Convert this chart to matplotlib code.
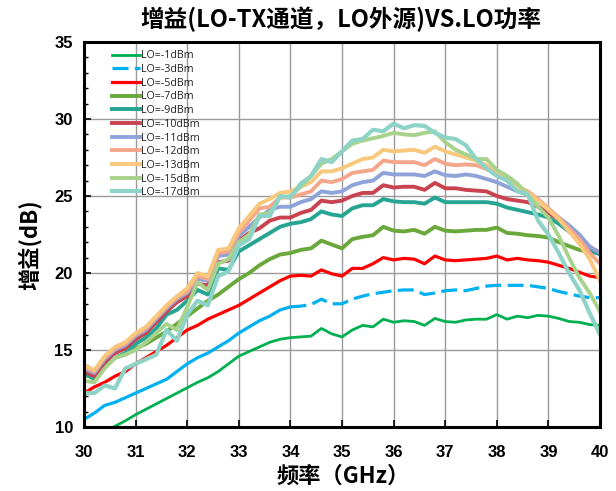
import numpy as np
import matplotlib
matplotlib.use("Agg")
import matplotlib.pyplot as plt
from matplotlib.ticker import MultipleLocator

# ---------------- data ----------------
freq = [30.0, 30.2, 30.4, 30.6, 30.8, 31.0, 31.2, 31.4, 31.6, 31.8,
        32.0, 32.2, 32.4, 32.6, 32.8, 33.0, 33.2, 33.4, 33.6, 33.8,
        34.0, 34.2, 34.4, 34.6, 34.8, 35.0, 35.2, 35.4, 35.6, 35.8,
        36.0, 36.2, 36.4, 36.6, 36.8, 37.0, 37.2, 37.4, 37.6, 37.8,
        38.0, 38.2, 38.4, 38.6, 38.8, 39.0, 39.2, 39.4, 39.6, 39.8, 40.0]

lo_m1 = [9.0, 9.35, 9.7, 10.05, 10.4, 10.8, 11.15, 11.5, 11.85, 12.2,
         12.55, 12.9, 13.2, 13.6, 14.1, 14.6, 14.9, 15.2, 15.5, 15.7,
         15.8, 15.85, 15.9, 16.4, 16.05, 15.85, 16.3, 16.6, 16.5, 17.0,
         16.8, 16.9, 16.85, 16.6, 17.05, 16.85, 16.8, 16.95, 17.0, 17.0,
         17.3, 17.0, 17.2, 17.1, 17.25, 17.2, 17.05, 16.85, 16.8, 16.65, 16.6]

lo_m3 = [10.5, 10.9, 11.4, 11.6, 11.9, 12.2, 12.5, 12.8, 13.1, 13.6,
         14.1, 14.5, 14.8, 15.2, 15.6, 16.1, 16.5, 16.9, 17.2, 17.6,
         17.8, 17.85, 17.95, 18.3, 18.0, 18.0, 18.3, 18.5, 18.65, 18.75,
         18.85, 18.9, 18.9, 18.6, 18.7, 18.85, 18.9, 18.85, 19.0, 19.15,
         19.2, 19.2, 19.2, 19.2, 19.1, 19.0, 18.8, 18.65, 18.5, 18.4, 18.4]

lo_m5 = [12.2, 12.6, 12.9, 13.3, 13.6, 14.1, 14.5, 14.9, 15.3, 15.8,
         16.3, 16.6, 17.0, 17.3, 17.6, 17.9, 18.3, 18.7, 19.1, 19.5,
         19.8, 19.85, 19.8, 20.2, 19.95, 19.8, 20.3, 20.3, 20.6, 21.0,
         20.85, 20.95, 20.9, 20.6, 21.1, 20.85, 20.8, 20.85, 20.9, 20.95,
         21.1, 20.85, 20.95, 20.85, 20.8, 20.7, 20.5, 20.3, 20.05, 19.8, 19.7]

lo_m7 = [13.3, 13.4, 13.9, 14.5, 14.7, 15.1, 15.4, 15.8, 16.2, 16.7,
         17.2, 17.7, 18.2, 18.6, 19.1, 19.6, 20.0, 20.5, 20.9, 21.2,
         21.3, 21.5, 21.6, 22.1, 21.85, 21.6, 22.2, 22.35, 22.45, 23.0,
         22.75, 22.7, 22.8, 22.55, 23.0, 22.75, 22.7, 22.75, 22.8, 22.8,
         22.95, 22.6, 22.55, 22.45, 22.4, 22.3, 22.0, 21.75, 21.5, 21.35, 21.3]

lo_m9 = [13.5, 13.1, 13.9, 14.5, 14.8, 15.4, 15.8, 16.4, 17.3, 17.6,
         18.2, 18.9, 18.6, 20.3, 20.2, 21.4, 21.8, 22.2, 22.6, 23.0,
         23.2, 23.3, 23.5, 24.0, 23.8, 23.7, 24.2, 24.4, 24.4, 24.8,
         24.65, 24.6, 24.6, 24.5, 24.9, 24.6, 24.6, 24.6, 24.6, 24.6,
         24.5, 24.25, 24.1, 23.95, 23.8, 23.6, 23.2, 22.7, 22.1, 21.5, 21.2]

lo_m10 = [13.6, 13.3, 14.2, 14.8, 15.1, 15.7, 16.1, 16.8, 17.5, 18.1,
          18.5, 19.3, 19.2, 20.7, 20.8, 22.1, 22.6, 22.9, 23.4, 23.6,
          23.6, 23.9, 24.1, 24.7, 24.6, 24.7, 25.0, 25.2, 25.2, 25.7,
          25.55, 25.6, 25.6, 25.4, 25.85, 25.5, 25.5, 25.4, 25.35, 25.3,
          25.0, 24.8, 24.7, 24.6, 24.3, 23.9, 23.5, 22.9, 22.4, 21.7, 21.3]

lo_m11 = [13.8, 13.5, 14.4, 15.0, 15.3, 15.9, 16.3, 17.0, 17.7, 18.3,
          18.7, 19.6, 19.5, 21.1, 21.2, 22.4, 23.0, 23.6, 24.1, 24.3,
          24.3, 24.6, 24.8, 25.3, 25.2, 25.3, 25.7, 25.9, 26.0, 26.5,
          26.4, 26.4, 26.4, 26.3, 26.6, 26.35, 26.3, 26.4, 26.3, 26.1,
          25.9, 25.6, 25.3, 25.15, 24.7, 24.1, 23.6, 23.1, 22.5, 21.7, 21.3]

lo_m12 = [13.9, 13.6, 14.5, 15.1, 15.4, 16.0, 16.4, 17.1, 17.8, 18.4,
          18.8, 19.8, 19.6, 21.3, 21.4, 22.6, 23.4, 24.2, 24.3, 24.9,
          24.9, 25.1, 25.3, 26.0, 25.9, 26.1, 26.5, 26.6, 26.7, 27.3,
          27.2, 27.2, 27.2, 27.0, 27.4, 27.1, 27.0, 27.05, 27.0, 26.75,
          26.5, 26.0, 25.6, 25.3, 24.8, 24.2, 23.6, 22.9, 22.2, 21.3, 20.6]

lo_m13 = [14.0, 13.7, 14.6, 15.2, 15.5, 16.1, 16.5, 17.2, 17.9, 18.5,
          19.0, 20.0, 19.8, 21.5, 21.6, 22.9, 23.7, 24.5, 24.8, 25.2,
          25.3, 25.6, 25.9, 26.6, 26.6, 26.8, 27.1, 27.4, 27.5, 28.0,
          27.9, 27.95, 28.0, 27.8, 28.2, 27.9, 27.7, 27.5, 27.3, 27.0,
          26.6, 26.2, 25.6, 25.2, 24.7, 24.1, 23.5, 22.7, 21.9, 20.9, 19.5]

lo_m15 = [13.0, 12.9, 13.8, 14.5, 14.7, 15.0, 15.5, 16.1, 16.7, 16.3,
          17.8, 19.4, 18.9, 20.6, 20.9, 22.0, 22.5, 23.8, 23.9, 24.9,
          25.0, 25.6, 26.3, 27.1, 27.4, 27.9, 28.4, 28.6, 28.75, 28.9,
          29.1, 29.0, 28.95, 29.1, 29.2, 28.5, 28.0, 27.7, 27.4, 27.4,
          26.7, 26.3, 25.8, 25.1, 24.3, 23.6, 22.4, 21.0, 19.7, 18.7, 17.5]

lo_m17 = [12.2, 12.2, 12.7, 12.5, 13.8, 14.1, 14.4, 14.7, 16.3, 15.6,
          17.3, 18.2, 17.9, 19.8, 20.1, 21.8, 22.2, 23.7, 23.7, 25.0,
          24.9, 25.8, 26.3, 27.4, 27.2, 27.9, 28.6, 28.7, 29.3, 29.2,
          29.7, 29.4, 29.6, 29.55, 29.1, 28.8, 28.7, 28.3, 27.4, 26.8,
          26.3, 26.0, 25.3, 25.1, 23.4, 22.5, 21.3, 20.0, 18.9, 17.4, 16.0]

labels = ["LO=-1dBm", "LO=-3dBm", "LO=-5dBm", "LO=-7dBm", "LO=-9dBm",
          "LO=-10dBm", "LO=-11dBm", "LO=-12dBm", "LO=-13dBm", "LO=-15dBm",
          "LO=-17dBm"]
series = [lo_m1, lo_m3, lo_m5, lo_m7, lo_m9, lo_m10, lo_m11, lo_m12,
          lo_m13, lo_m15, lo_m17]
colors = ["#00B050", "#00B0F0", "#FF0000", "#6AA83C", "#27A593",
          "#C8434F", "#8FA2DA", "#F4A78A", "#F8C97C", "#A8D38C", "#8DD3C7"]
widths = [2.0, 2.3, 2.3, 2.8, 2.8, 2.8, 2.8, 2.8, 2.8, 2.8, 3.0]

title = "增益(LO-TX通道，LO外源)VS.LO功率"
xlabel = "频率（GHz）"
ylabel = "增益(dB)"

cjk = ["Noto Sans CJK SC", "DejaVu Sans"]

# ---------------- figure ----------------
W, H = 616, 491
fig = plt.figure(figsize=(W / 100, H / 100), dpi=100)
ax = fig.add_axes([84 / W, 1 - 427 / H, (600 - 84) / W, (427 - 42) / H])

f = np.array(freq)
split = freq.index(34.0)
for i, (vals, lab, c, lw) in enumerate(zip(series, labels, colors, widths)):
    v = np.array(vals)
    if i == 1:
        ax.plot(f[:split + 1], v[:split + 1], color=c, lw=lw,
                solid_capstyle="butt", zorder=3 + i)
        ax.plot(f[split:], v[split:], color=c, lw=lw, label=lab,
                linestyle=(0, (5, 2)), zorder=3 + i)
    else:
        ax.plot(f, v, color=c, lw=lw, label=lab, zorder=3 + i,
                solid_joinstyle="round")

ax.set_xlim(30, 40)
ax.set_ylim(10, 35)
ax.xaxis.set_major_locator(MultipleLocator(1))
ax.yaxis.set_major_locator(MultipleLocator(5))
ax.yaxis.set_minor_locator(MultipleLocator(1))
ax.grid(True, which="major", color="#9a9a9a", lw=1.0, zorder=1)
ax.set_axisbelow(True)

for s in ax.spines.values():
    s.set_linewidth(2.2)
    s.set_color("black")
    s.set_zorder(20)

ax.tick_params(axis="both", which="major", direction="in", length=5,
               width=1.2, labelsize=12, pad=8)
ax.tick_params(axis="x", which="major", pad=13)
ax.tick_params(axis="y", which="minor", direction="in", length=3, width=1.0)
for lbl in ax.get_xticklabels() + ax.get_yticklabels():
    lbl.set_fontweight("bold")
    lbl.set_family(["Liberation Sans", "DejaVu Sans"])

leg = ax.legend(loc="upper left", bbox_to_anchor=(0.054, 0.978),
                frameon=False, handlelength=2.6,
                handletextpad=0.15, labelspacing=0.25, borderpad=0,
                borderaxespad=0,
                prop={"family": ["Open Sans", "DejaVu Sans"], "size": 7.7})
for t in leg.get_texts():
    t.set_color("#222222")

fig.text(341 / W, 1 - 19 / H, title, ha="center", va="center",
         fontsize=17, fontweight="bold", family=cjk)
fig.text(343 / W, 1 - 476 / H, xlabel, ha="center", va="center",
         fontsize=16, fontweight="bold", family=cjk)
fig.text(30 / W, 1 - 245 / H, ylabel, ha="center", va="center",
         rotation=90, fontsize=16, fontweight="bold", family=cjk)

fig.savefig("out.png", dpi=100)
